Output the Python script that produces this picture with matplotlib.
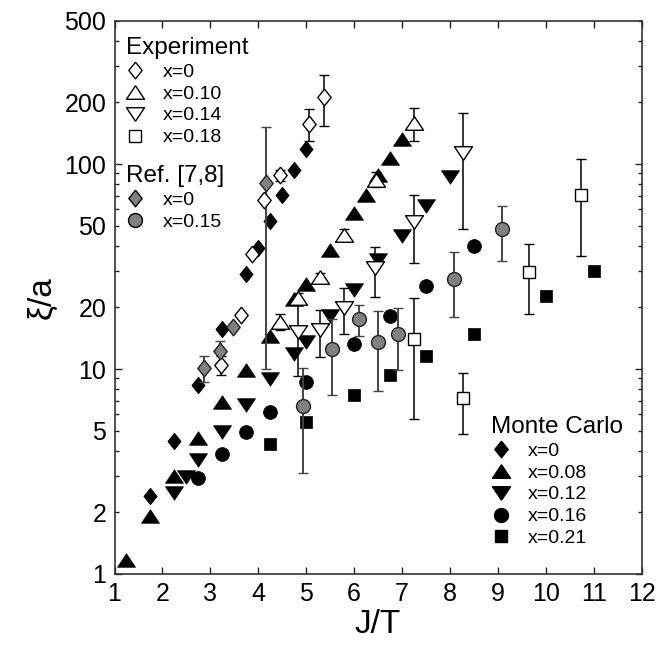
import numpy as np
import matplotlib
matplotlib.use('Agg')
import matplotlib.pyplot as plt
from matplotlib.lines import Line2D
from matplotlib.ticker import FixedLocator, FuncFormatter

plt.rcParams['font.family'] = ['Liberation Sans', 'DejaVu Sans']

# Monte Carlo (filled black)
mc0_x = [1.75, 2.25, 2.75, 3.25, 3.75, 4.0, 4.25, 4.5, 4.75, 5.0]
mc0_y = [2.4, 4.45, 8.4, 15.7, 29, 39, 53, 71, 94, 119]
mc08_x = [1.25, 1.75, 2.25, 2.75, 3.25, 3.75, 4.25, 4.75, 5.0, 5.5, 6.0, 6.25, 6.5, 6.75, 7.0]
mc08_y = [1.17, 1.92, 3.0, 4.6, 6.9, 9.9, 14.5, 21.9, 25.9, 38, 57.5, 70.6, 88, 107, 133]
mc12_x = [2.25, 2.5, 2.75, 3.25, 3.75, 4.25, 4.75, 5.0, 5.5, 6.0, 6.5, 7.0, 7.5, 8.0]
mc12_y = [2.48, 2.98, 3.6, 4.94, 6.67, 8.93, 11.9, 13.6, 18.2, 24.3, 34, 44.7, 62.4, 86.7]
mc16_x = [2.75, 3.25, 3.75, 4.25, 5.0, 6.0, 6.75, 7.5, 8.5]
mc16_y = [2.93, 3.85, 4.91, 6.2, 8.6, 13.2, 18.1, 25.4, 39.8]
mc21_x = [4.25, 5.0, 6.0, 6.75, 7.5, 8.5, 10.0, 11.0]
mc21_y = [4.3, 5.5, 7.5, 9.3, 11.6, 14.9, 22.7, 30]

# Experiment (open)
ex0_x = [3.22, 3.63, 3.86, 4.13, 4.46, 5.05, 5.37]
ex0_y = [10.5, 18.4, 36.3, 67, 88, 157, 213]
ex0_e = [1.1, 0, 0, 0, 5, 28, 60]
ex10_x = [4.46, 4.84, 5.28, 5.8, 6.46, 7.26]
ex10_y = [17, 22.1, 28, 45, 84, 158]
ex10_e = [1.5, 1.5, 1.5, 3, 7, 29]
ex14_x = [4.82, 5.28, 5.8, 6.44, 7.26, 8.28]
ex14_y = [15.2, 15.5, 19.8, 31, 52, 113]
ex14_e = [6, 4, 5, 8.5, 19, 65]
ex18_x = [7.26, 8.28, 9.66, 10.74]
ex18_y = [14, 7.2, 29.6, 70.6]
ex18_e = [8.3, 2.4, 11, 35]

# Ref. [7,8] (gray)
ref0_x = [2.87, 3.2, 3.48, 4.16]
ref0_y = [10.1, 12.2, 16.0, 81]
ref0_e = [1.5, 1.5, 0, 71]
ref15_x = [4.93, 5.53, 6.1, 6.51, 6.91, 8.09, 9.08]
ref15_y = [6.6, 12.5, 17.5, 13.5, 14.9, 27.5, 48]
ref15_e = [3.5, 5, 3, 5.7, 5, 9.6, 14.5]

# marker shapes
diam = [(0, 1), (0.8, 0), (0, -1), (-0.8, 0), (0, 1)]
tri_up = [(0, 0.75), (1, -0.75), (-1, -0.75), (0, 0.75)]
tri_dn = [(0, -0.75), (1, 0.75), (-1, 0.75), (0, -0.75)]

m_diam = dict(marker=diam, markersize=12)
m_up = dict(marker=tri_up, markersize=13)
m_dn = dict(marker=tri_dn, markersize=13)
m_circ = dict(marker='o', markersize=10)
m_sq = dict(marker='s', markersize=8.5)

fig = plt.figure(figsize=(6.70, 6.48), dpi=100)
ax = fig.add_axes([0.1709, 0.1142, 0.7866, 0.8538])

open_kw = dict(ls='none', mfc='white', mec='black', mew=1.0,
               ecolor='black', elinewidth=1.1, capsize=3.5, capthick=1.1)
ax.errorbar(ex0_x, ex0_y, yerr=ex0_e, **open_kw, **m_diam)
ax.errorbar(ex10_x, ex10_y, yerr=ex10_e, **open_kw, **m_up)
ax.errorbar(ex14_x, ex14_y, yerr=ex14_e, **open_kw, **m_dn)
ax.errorbar(ex18_x, ex18_y, yerr=ex18_e, **open_kw, **m_sq)

black_kw = dict(ls='none', color='black', mec='black', mew=0.5)
ax.plot(mc0_x, mc0_y, **black_kw, **m_diam)
ax.plot(mc08_x, mc08_y, **black_kw, **m_up)
ax.plot(mc12_x, mc12_y, **black_kw, **m_dn)
ax.plot(mc16_x, mc16_y, **black_kw, **m_circ)
ax.plot(mc21_x, mc21_y, **black_kw, **m_sq)

gray_kw = dict(ls='none', mfc='#808080', mec='#222222', mew=1.0,
               ecolor='#444444', elinewidth=1.4, capsize=3.5, capthick=1.2)
ax.errorbar(ref0_x, ref0_y, yerr=ref0_e, **gray_kw, **m_diam)
ax.errorbar(ref15_x, ref15_y, yerr=ref15_e, **gray_kw, **m_circ)

ax.set_yscale('log')
ax.set_xlim(1, 12)
ax.set_ylim(1, 500)
ax.set_xticks(range(1, 13))

ax.yaxis.set_major_locator(FixedLocator([1, 10, 100]))
minor = [m * 10 ** d for d in range(3) for m in range(2, 10) if m * 10 ** d <= 500]
ax.yaxis.set_minor_locator(FixedLocator(minor))
ax.yaxis.set_major_formatter(FuncFormatter(lambda v, p: '%d' % v))
def minor_fmt(v, p):
    mant = round(v / 10 ** np.floor(np.log10(v) + 1e-9))
    return '%d' % round(v) if mant in (2, 5) else ''
ax.yaxis.set_minor_formatter(FuncFormatter(minor_fmt))

ax.tick_params(which='both', direction='in', top=True, right=True,
               labelsize=18, pad=6, color='#222222', width=1.0)
ax.tick_params(which='major', length=5)
ax.tick_params(which='minor', length=3)
for s in ax.spines.values():
    s.set_linewidth(1.2)
    s.set_color('#333333')

ax.set_xlabel('J/T', fontsize=24, labelpad=2)
ax.set_ylabel('ξ/a', fontsize=24, labelpad=5)

def hnd(fc, mk):
    return Line2D([], [], ls='none', mfc=fc, mec='black', mew=1.0, **mk)

leg_kw = dict(frameon=False, fontsize=14, title_fontsize=17.5, alignment='left',
              handlelength=0.95, handletextpad=0.95, labelspacing=0.22,
              borderpad=0, borderaxespad=0, loc='upper left')

exp_labels = ['x=0', 'x=0.10', 'x=0.14', 'x=0.18']
leg1 = ax.legend([hnd('white', m_diam), hnd('white', m_up), hnd('white', m_dn),
                  hnd('white', m_sq)], exp_labels, title='Experiment',
                 bbox_to_anchor=(0.022, 0.971), **leg_kw)
ax.add_artist(leg1)

ref_labels = ['x=0', 'x=0.15']
leg2 = ax.legend([hnd('#808080', m_diam), hnd('#808080', m_circ)], ref_labels,
                 title='Ref. [7,8]', bbox_to_anchor=(0.022, 0.739), **leg_kw)
ax.add_artist(leg2)

mc_labels = ['x=0', 'x=0.08', 'x=0.12', 'x=0.16', 'x=0.21']
ax.legend([hnd('black', m_diam), hnd('black', m_up), hnd('black', m_dn),
           hnd('black', m_circ), hnd('black', m_sq)], mc_labels,
          title='Monte Carlo', bbox_to_anchor=(0.715, 0.286), **leg_kw)

fig.savefig('out.png', dpi=100)
